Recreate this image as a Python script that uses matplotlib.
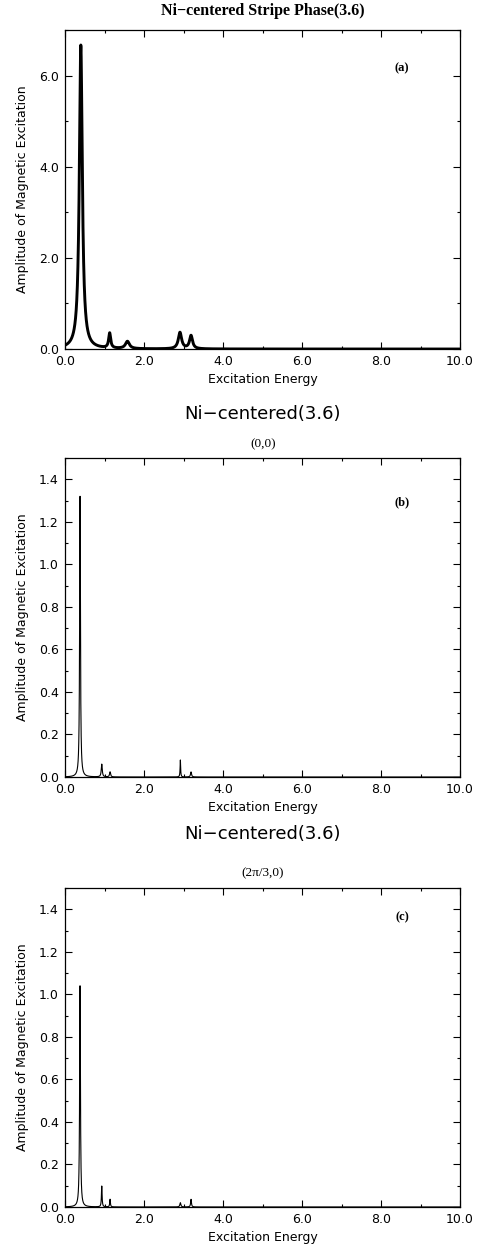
import numpy as np
import matplotlib
matplotlib.use("Agg")
import matplotlib.pyplot as plt
from matplotlib.ticker import MultipleLocator, FormatStrFormatter

# ==============================================
# DATA  (peaks: position, height, half width)
# ==============================================
energy = np.linspace(0.0, 10.0, 10001)

peak_pos_a = [0.40, 1.13, 1.58, 2.91, 3.19]
peak_amp_a = [6.67, 0.33, 0.16, 0.36, 0.29]
peak_wid_a = [0.045, 0.03, 0.06, 0.05, 0.045]

peak_pos_b = [0.38, 0.93, 1.14, 2.92, 3.19]
peak_amp_b = [1.32, 0.060, 0.024, 0.080, 0.024]
peak_wid_b = [0.012, 0.015, 0.015, 0.008, 0.015]

peak_pos_c = [0.38, 0.93, 1.14, 2.92, 3.19]
peak_amp_c = [1.04, 0.098, 0.036, 0.020, 0.036]
peak_wid_c = [0.012, 0.010, 0.010, 0.015, 0.012]

SANS = ["DejaVu Sans"]
SERIF = ["Liberation Serif", "DejaVu Serif"]


def spectrum(pos, amp, wid):
    y = np.zeros_like(energy)
    for x0, h, g in zip(pos, amp, wid):
        y += h * g ** 2 / ((energy - x0) ** 2 + g ** 2)
    return y


def style_axes(ax, ymax, ymajor, yminor):
    ax.set_xlim(0, 10)
    ax.set_ylim(0, ymax)
    ax.xaxis.set_major_locator(MultipleLocator(2))
    ax.xaxis.set_minor_locator(MultipleLocator(1))
    ax.yaxis.set_major_locator(MultipleLocator(ymajor))
    ax.yaxis.set_minor_locator(MultipleLocator(yminor))
    ax.xaxis.set_major_formatter(FormatStrFormatter("%.1f"))
    ax.yaxis.set_major_formatter(FormatStrFormatter("%.1f"))
    ax.tick_params(which="both", direction="in", top=True, right=True,
                   labelsize=9, width=0.8)
    ax.tick_params(which="major", length=5, pad=4.5)
    ax.tick_params(which="minor", length=2.5)
    for lab in ax.get_xticklabels() + ax.get_yticklabels():
        lab.set_family(SANS)
    ax.set_xlabel("Excitation Energy", family=SANS, fontsize=9)
    ax.set_ylabel("Amplitude of Magnetic Excitation", family=SANS, fontsize=9)
    ax.xaxis.set_label_coords(0.5, -0.075)
    ax.yaxis.set_label_coords(-0.091, 0.5)
    for sp in ax.spines.values():
        sp.set_linewidth(0.9)


fig = plt.figure(figsize=(4.82, 12.47), dpi=100)
left, width, height = 0.1349, 0.8195, 0.2558

# (a)
ax_a = fig.add_axes([left, 0.7201, width, height])
ax_a.plot(energy, spectrum(peak_pos_a, peak_amp_a, peak_wid_a), color="black", lw=2.1)
style_axes(ax_a, 7.0, 2.0, 1.0)
ax_a.text(0.853, 0.881, "(a)", transform=ax_a.transAxes, family=SERIF,
          fontweight="bold", fontsize=9, ha="center", va="center")
fig.text(0.545, 0.9915, "Ni\u2212centered Stripe Phase(3.6)", family=SERIF,
         fontweight="bold", fontsize=11.5, ha="center", va="center")

# (b)
ax_b = fig.add_axes([left, 0.3769, width, height])
ax_b.plot(energy, spectrum(peak_pos_b, peak_amp_b, peak_wid_b), color="black", lw=0.8)
style_axes(ax_b, 1.5, 0.2, 0.1)
ax_b.text(0.853, 0.862, "(b)", transform=ax_b.transAxes, family=SERIF,
          fontweight="bold", fontsize=9, ha="center", va="center")
fig.text(0.545, 1 - 414 / 1247, "Ni\u2212centered(3.6)", family=SANS,
         fontsize=13, ha="center", va="center")
fig.text(0.545, 1 - 444 / 1247, "(0,0)", family=SERIF,
         fontsize=9.5, ha="center", va="center")

# (c)
ax_c = fig.add_axes([left, 0.0321, width, height])
ax_c.plot(energy, spectrum(peak_pos_c, peak_amp_c, peak_wid_c), color="black", lw=0.8)
style_axes(ax_c, 1.5, 0.2, 0.1)
ax_c.text(0.853, 0.909, "(c)", transform=ax_c.transAxes, family=SERIF,
          fontweight="bold", fontsize=9, ha="center", va="center")
fig.text(0.545, 1 - 834 / 1247, "Ni\u2212centered(3.6)", family=SANS,
         fontsize=13, ha="center", va="center")
fig.text(0.545, 1 - 873 / 1247, "(2\u03c0/3,0)", family=SERIF,
         fontsize=9.5, ha="center", va="center")

fig.savefig("out.png", dpi=100)
plt.close(fig)
